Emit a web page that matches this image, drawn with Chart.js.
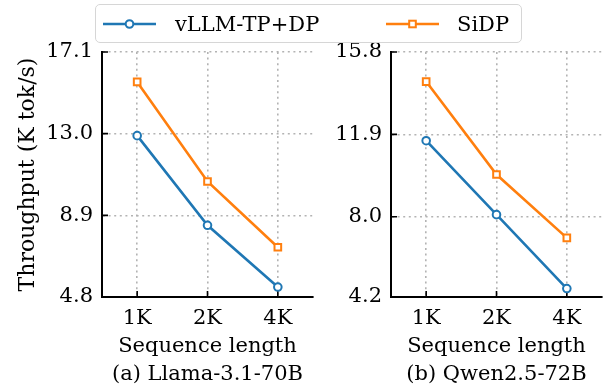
<!DOCTYPE html>
<html>
<head>
<meta charset="utf-8">
<script src="https://cdn.jsdelivr.net/npm/chart.js@4"></script>
<style>
  body { margin: 0; width: 610px; height: 392px; background: #fff; position: relative; overflow: hidden; font-family: "DejaVu Serif", serif; }
  #llamaCanvas { position: absolute; left: 0; top: 0; }
  #qwenCanvas { position: absolute; left: 320px; top: 0; }
  #legendBox { position: absolute; left: 95px; top: 4px; width: 427px; height: 39px; box-sizing: border-box; border: 1.5px solid #d6d6d6; border-radius: 5px; background: #fff; }
  .legendItem { position: absolute; top: 4px; height: 39px; display: flex; align-items: center; font-size: 21px; color: #000; white-space: nowrap; }
</style>
</head>
<body>
<canvas id="llamaCanvas" width="320" height="392"></canvas>
<canvas id="qwenCanvas" width="290" height="392"></canvas>
<div id="legendBox"></div>
<div id="legend"></div>
<script>
// --------------------------------------
// 1. Data
// --------------------------------------
const seqLabels = ['1K', '2K', '4K'];
const seriesNames = ['vLLM-TP+DP', 'SiDP'];
const seriesColors = ['#1f77b4', '#ff7f0e'];
const seriesMarkers = ['circle', 'rect'];

const llamaTicks = [4.8, 8.9, 13.0, 17.1];
const llamaVllm = [12.9, 8.4, 5.3];
const llamaSidp = [15.6, 10.6, 7.3];

const qwenTicks = [4.2, 8.0, 11.9, 15.8];
const qwenVllm = [11.6, 8.1, 4.6];
const qwenSidp = [14.4, 10.0, 7.0];

const FONT = '"DejaVu Serif", serif';
const FONT_SIZE = 21;

// --------------------------------------
// 2. Inward tick marks (matplotlib style)
// --------------------------------------
const inwardTicks = {
  id: 'inwardTicks',
  beforeDatasetsDraw(chart) {
    const { ctx, chartArea, scales: { x, y } } = chart;
    ctx.save();
    ctx.strokeStyle = '#000';
    ctx.lineWidth = 1.6;
    ctx.beginPath();
    y.ticks.forEach((t, i) => {
      const py = y.getPixelForTick(i);
      ctx.moveTo(chartArea.left, py);
      ctx.lineTo(chartArea.left + 6, py);
    });
    x.ticks.forEach((t, i) => {
      const px = x.getPixelForTick(i);
      ctx.moveTo(px, chartArea.bottom);
      ctx.lineTo(px, chartArea.bottom - 6);
    });
    ctx.stroke();
    ctx.restore();
  }
};

// --------------------------------------
// 3. Chart builder
// --------------------------------------
function makeDataset(i, data) {
  return {
    label: seriesNames[i],
    data: data,
    borderColor: seriesColors[i],
    backgroundColor: '#fff',
    borderWidth: 2.6,
    pointStyle: seriesMarkers[i],
    pointRadius: i === 0 ? 3.8 : 4.7,
    pointBorderWidth: 2,
    pointBorderColor: seriesColors[i],
    pointBackgroundColor: '#fff',
    tension: 0,
    clip: false
  };
}

function buildChart(canvasId, vllm, sidp, tickVals, caption, yAxisWidth, rightPad, showYTitle) {
  const ctx = document.getElementById(canvasId).getContext('2d');
  return new Chart(ctx, {
    type: 'line',
    data: {
      labels: seqLabels,
      datasets: [makeDataset(0, vllm), makeDataset(1, sidp)]
    },
    options: {
      responsive: false,
      animation: false,
      devicePixelRatio: 1,
      layout: { padding: { top: 52, right: rightPad, bottom: 0, left: 0 } },
      plugins: { legend: { display: false }, tooltip: { enabled: false } },
      scales: {
        x: {
          type: 'category',
          offset: true,
          grid: { offset: false, drawTicks: false, color: '#b3b3b3', lineWidth: 1.6 },
          border: { display: true, color: '#000', width: 2, dash: [2, 3.6] },
          ticks: { color: '#000', padding: 9, font: { family: FONT, size: FONT_SIZE } },
          title: {
            display: true,
            text: ['Sequence length', caption],
            color: '#000',
            font: { family: FONT, size: FONT_SIZE, lineHeight: 28 / FONT_SIZE },
            padding: { top: 0, bottom: 3 }
          },
          afterFit: s => { s.height = 95; }
        },
        y: {
          min: tickVals[0],
          max: tickVals[tickVals.length - 1],
          afterBuildTicks: s => { s.ticks = tickVals.map(v => ({ value: v })); },
          grid: {
            drawTicks: false,
            color: c => (c.index === 0 ? 'rgba(0,0,0,0)' : '#b3b3b3'),
            lineWidth: 1.6
          },
          border: { display: true, color: '#000', width: 2, dash: [2, 3.6] },
          ticks: { color: '#000', padding: 9, font: { family: FONT, size: FONT_SIZE }, callback: v => Number(v).toFixed(1) },
          title: {
            display: showYTitle,
            text: 'Throughput (K tok/s)',
            color: '#000',
            font: { family: FONT, size: 22, lineHeight: 28 / 22 },
            padding: { top: 14, bottom: 0 }
          },
          afterFit: s => { s.width = yAxisWidth; }
        }
      }
    },
    plugins: [inwardTicks]
  });
}

// --------------------------------------
// 4. Legend (shared, above both panels)
// --------------------------------------
function buildLegend() {
  const legend = document.getElementById('legend');
  const linePos = [103, 386];
  const textPos = [175, 457];
  seriesNames.forEach((name, i) => {
    const marker = seriesMarkers[i] === 'circle'
      ? `<circle cx="26.5" cy="10" r="3.8" fill="#fff" stroke="${seriesColors[i]}" stroke-width="2"/>`
      : `<rect x="23.2" y="6.7" width="6.6" height="6.6" fill="#fff" stroke="${seriesColors[i]}" stroke-width="2"/>`;
    const sym = document.createElement('div');
    sym.className = 'legendItem';
    sym.style.left = linePos[i] + 'px';
    sym.innerHTML = `<svg width="53" height="20"><line x1="0" y1="10" x2="53" y2="10" stroke="${seriesColors[i]}" stroke-width="2.6"/>${marker}</svg>`;
    legend.appendChild(sym);
    const txt = document.createElement('div');
    txt.className = 'legendItem';
    txt.style.left = textPos[i] + 'px';
    txt.textContent = name;
    legend.appendChild(txt);
  });
}

// --------------------------------------
// 5. Initial Load
// --------------------------------------
buildChart('llamaCanvas', llamaVllm, llamaSidp, llamaTicks, '(a) Llama-3.1-70B', 102, 7, true);
buildChart('qwenCanvas', qwenVllm, qwenSidp, qwenTicks, '(b) Qwen2.5-72B', 71, 8, false);
buildLegend();
</script>
</body>
</html>
